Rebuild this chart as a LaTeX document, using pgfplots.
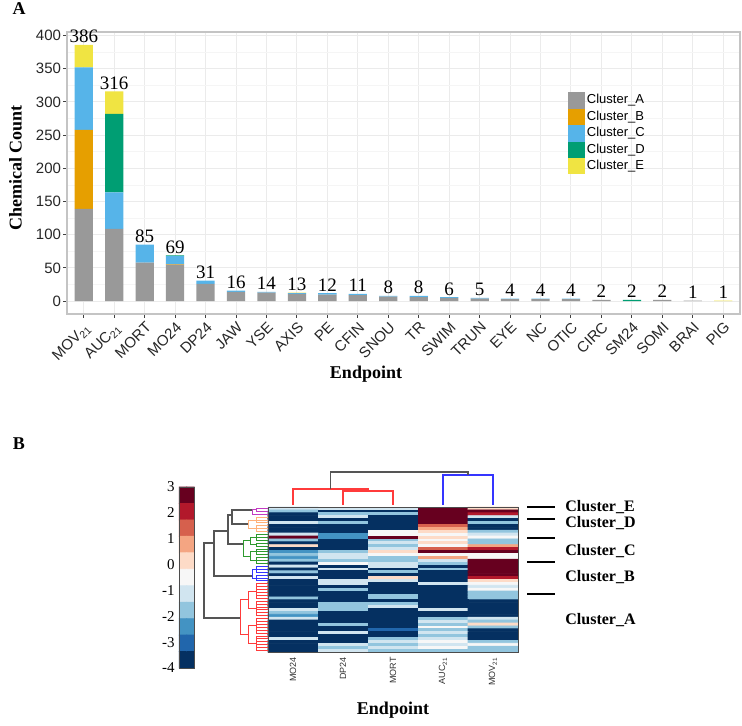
\documentclass[border=0pt]{standalone}
\usepackage{fontspec}
\setmainfont{Liberation Serif}
\newfontfamily\arial{Liberation Sans}
\usepackage{pgfplots}
\usepackage{pgfplotstable}
\pgfplotsset{compat=1.18}

\definecolor{clA}{HTML}{999999}
\definecolor{clB}{HTML}{E69F00}
\definecolor{clC}{HTML}{56B4E9}
\definecolor{clD}{HTML}{009E73}
\definecolor{clE}{HTML}{F0E442}
\definecolor{gridmaj}{HTML}{EBEBEB}
\definecolor{gridmin}{HTML}{F5F5F5}
\definecolor{framegray}{HTML}{C4C4C4}
\definecolor{dgray}{HTML}{555555}
\definecolor{dpurple}{HTML}{C23BC2}
\definecolor{dorange}{HTML}{FFB27A}
\definecolor{dgreen}{HTML}{2E9A2E}
\definecolor{dblue}{HTML}{3535FF}
\definecolor{dred}{HTML}{FF3B3B}

% panel A: chemical count per endpoint, split by cluster
\pgfplotstableread{
x  A   B   C   D   E   tot
1  139 119 94  0   34  386
2  109 0   55  118 34  316
3  58  0   27  0   0   85
4  55  1   12  1   0   69
5  26  0   5   0   0   31
6  14  0   2   0   0   16
7  13  0   1   0   0   14
8  11  0   1   0   1   13
9  10  0   2   0   0   12
10 9   0   2   0   0   11
11 7   0   1   0   0   8
12 6   0   2   0   0   8
13 5   0   1   0   0   6
14 4   0   1   0   0   5
15 3   0   1   0   0   4
16 3   0   1   0   0   4
17 3   0   1   0   0   4
18 2   0   0   0   0   2
19 0   0   0   2   0   2
20 2   0   0   0   0   2
21 1   0   0   0   0   1
22 0   0   0   0   1   1
}\counts

% panel B heatmap: column c (1 MO24, 2 DP24, 3 MORT, 4 AUC21, 5 MOV21), row r, value v
\pgfplotstableread[row sep=\\]{
c r v\\
1 1 -1.2\\ 2 1 -1.2\\ 3 1 -1.2\\ 4 1 3\\ 5 1 0.2\\
1 2 -1.9\\ 2 2 -4\\ 3 2 -4\\ 4 2 3\\ 5 2 3\\
1 3 -4\\ 2 3 -1.9\\ 3 3 -1.9\\ 4 3 3\\ 5 3 2.3\\
1 4 -4\\ 2 4 -1.2\\ 3 4 -4\\ 4 4 3\\ 5 4 -1.2\\
1 5 -4\\ 2 5 -4\\ 3 5 -4\\ 4 5 3\\ 5 5 -4\\
1 6 -1.2\\ 2 6 -1.9\\ 3 6 -4\\ 4 6 3\\ 5 6 -1.9\\
1 7 -4\\ 2 7 -4\\ 3 7 -4\\ 4 7 1.6\\ 5 7 -4\\
1 8 -4\\ 2 8 -4\\ 3 8 -4\\ 4 8 0.9\\ 5 8 -4\\
1 9 -4\\ 2 9 -4\\ 3 9 -0.5\\ 4 9 0.2\\ 5 9 -1.9\\
1 10 -1.2\\ 2 10 -2.6\\ 3 10 -0.5\\ 4 10 -0.5\\ 5 10 -1.2\\
1 11 3\\ 2 11 -2.6\\ 3 11 3\\ 4 11 0.2\\ 5 11 -0.5\\
1 12 -1.9\\ 2 12 -4\\ 3 12 -1.9\\ 4 12 -0.5\\ 5 12 -1.9\\
1 13 -4\\ 2 13 -4\\ 3 13 -1.2\\ 4 13 0.2\\ 5 13 -1.9\\
1 14 0.2\\ 2 14 -4\\ 3 14 -1.9\\ 4 14 -0.5\\ 5 14 0.9\\
1 15 -4\\ 2 15 -4\\ 3 15 -1.2\\ 4 15 1.6\\ 5 15 2.3\\
1 16 -2.6\\ 2 16 -1.9\\ 3 16 0.2\\ 4 16 3\\ 5 16 3\\
1 17 -1.9\\ 2 17 -1.2\\ 3 17 -0.5\\ 4 17 -0.5\\ 5 17 -0.5\\
1 18 -2.6\\ 2 18 -1.2\\ 3 18 -1.9\\ 4 18 0.9\\ 5 18 -0.5\\
1 19 -1.9\\ 2 19 -1.9\\ 3 19 -1.9\\ 4 19 -1.2\\ 5 19 3\\
1 20 -4\\ 2 20 -0.5\\ 3 20 -1.2\\ 4 20 -1.9\\ 5 20 3\\
1 21 -1.2\\ 2 21 -4\\ 3 21 -1.2\\ 4 21 -4\\ 5 21 3\\
1 22 -4\\ 2 22 -1.2\\ 3 22 -4\\ 4 22 -1.9\\ 5 22 3\\
1 23 -1.9\\ 2 23 -4\\ 3 23 -1.9\\ 4 23 -4\\ 5 23 3\\
1 24 -4\\ 2 24 -4\\ 3 24 -4\\ 4 24 -4\\ 5 24 3\\
1 25 -1.2\\ 2 25 -4\\ 3 25 0.2\\ 4 25 -4\\ 5 25 2.3\\
1 26 -4\\ 2 26 -1.2\\ 3 26 -1.2\\ 4 26 -4\\ 5 26 0.2\\
1 27 -4\\ 2 27 -1.2\\ 3 27 -4\\ 4 27 -1.2\\ 5 27 -0.5\\
1 28 -4\\ 2 28 -4\\ 3 28 -4\\ 4 28 -4\\ 5 28 -1.2\\
1 29 -4\\ 2 29 -1.9\\ 3 29 -4\\ 4 29 -4\\ 5 29 -0.5\\
1 30 -4\\ 2 30 -4\\ 3 30 -4\\ 4 30 -4\\ 5 30 -1.9\\
1 31 -4\\ 2 31 -4\\ 3 31 -1.9\\ 4 31 -4\\ 5 31 -1.9\\
1 32 -1.9\\ 2 32 -4\\ 3 32 -1.9\\ 4 32 -4\\ 5 32 -1.9\\
1 33 -4\\ 2 33 -4\\ 3 33 -4\\ 4 33 -4\\ 5 33 -4\\
1 34 -4\\ 2 34 -1.9\\ 3 34 -1.9\\ 4 34 -4\\ 5 34 -4\\
1 35 -4\\ 2 35 -1.9\\ 3 35 -1.2\\ 4 35 -4\\ 5 35 -4\\
1 36 -1.2\\ 2 36 -1.9\\ 3 36 -4\\ 4 36 -1.2\\ 5 36 -4\\
1 37 -1.9\\ 2 37 -4\\ 3 37 -4\\ 4 37 -4\\ 5 37 -4\\
1 38 -2.6\\ 2 38 -4\\ 3 38 -4\\ 4 38 -4\\ 5 38 -4\\
1 39 -1.2\\ 2 39 -4\\ 3 39 -4\\ 4 39 -1.9\\ 5 39 -1.2\\
1 40 -4\\ 2 40 -4\\ 3 40 -4\\ 4 40 -1.2\\ 5 40 -1.9\\
1 41 -4\\ 2 41 -1.9\\ 3 41 -4\\ 4 41 -1.9\\ 5 41 0.2\\
1 42 -4\\ 2 42 -4\\ 3 42 -4\\ 4 42 -0.5\\ 5 42 -1.9\\
1 43 -4\\ 2 43 -4\\ 3 43 -3.3\\ 4 43 -1.9\\ 5 43 -4\\
1 44 -4\\ 2 44 -1.2\\ 3 44 -4\\ 4 44 -1.2\\ 5 44 -4\\
1 45 -4\\ 2 45 -4\\ 3 45 -4\\ 4 45 -1.9\\ 5 45 -4\\
1 46 -1.2\\ 2 46 -4\\ 3 46 -1.9\\ 4 46 -1.2\\ 5 46 -4\\
1 47 -4\\ 2 47 -4\\ 3 47 -1.2\\ 4 47 -0.5\\ 5 47 -1.9\\
1 48 -4\\ 2 48 -1.2\\ 3 48 -1.9\\ 4 48 -1.2\\ 5 48 -0.5\\
1 49 -4\\ 2 49 -1.9\\ 3 49 -1.2\\ 4 49 -0.5\\ 5 49 -1.9\\
1 50 -4\\ 2 50 -1.2\\ 3 50 -1.9\\ 4 50 -1.9\\ 5 50 -1.9\\
}\heat

% colour key, top (3) to bottom (-4), two cells per step
\pgfplotstableread[row sep=\\]{
c r v\\
0 0 3\\ 1 0 3\\ 0 1 2.3\\ 1 1 2.3\\ 0 2 1.6\\ 1 2 1.6\\ 0 3 0.9\\ 1 3 0.9\\
0 4 0.2\\ 1 4 0.2\\ 0 5 -0.5\\ 1 5 -0.5\\ 0 6 -1.2\\ 1 6 -1.2\\ 0 7 -1.9\\ 1 7 -1.9\\
0 8 -2.6\\ 1 8 -2.6\\ 0 9 -3.3\\ 1 9 -3.3\\ 0 10 -4\\ 1 10 -4\\
}\cbar

\begin{document}
\begin{tikzpicture}
\useasboundingbox (0,0) rectangle (371pt,-362.5pt);

% ---------- panel A ----------
\begin{axis}[
  at={(33.5pt,-157pt)}, anchor=south west,
  width=336.5pt, height=141pt, scale only axis,
  ybar stacked, bar width=0.6,
  xmin=0.45, xmax=22.55, ymin=-19.3, ymax=405.3,
  xtick={1,...,22},
  xticklabels={MOV\textsubscript{21},AUC\textsubscript{21},MORT,MO24,DP24,JAW,YSE,AXIS,PE,CFIN,SNOU,TR,SWIM,TRUN,EYE,NC,OTIC,CIRC,SM24,SOMI,BRAI,PIG},
  ytick={0,50,...,400},
  minor ytick={25,75,...,375},
  xmajorgrids, ymajorgrids, yminorgrids,
  major grid style={gridmaj, line width=0.5pt},
  minor grid style={gridmin, line width=0.4pt},
  axis line style={framegray, line width=0.6pt},
  tick align=outside, major tick length=1.8pt, minor tick length=0pt,
  tick style={black!75, line width=0.5pt},
  xtick pos=bottom, ytick pos=left,
  /pgf/number format/assume math mode=true,
  tick label style={font=\arial\fontsize{7.5}{8}\selectfont, black!85},
  yticklabel style={inner sep=1pt},
  xticklabel style={rotate=45, anchor=north east, inner sep=1pt},
  legend cell align=left,
  legend image code/.code={\fill[#1] (0pt,-4.1pt) rectangle (8.2pt,4.1pt);},
  legend style={draw=none, fill=none, at={(0.744,0.787)}, anchor=north west,
    font=\arial\fontsize{6.5}{7}\selectfont, row sep=0pt, column sep=1.2pt,
    inner sep=0pt, nodes={inner sep=0pt}},
]
\addplot[fill=clA, draw=none] table[x=x, y=A] {\counts};
\addplot[fill=clB, draw=none] table[x=x, y=B] {\counts};
\addplot[fill=clC, draw=none] table[x=x, y=C] {\counts};
\addplot[fill=clD, draw=none] table[x=x, y=D] {\counts};
\addplot[fill=clE, draw=none] table[x=x, y=E] {\counts};
\legend{Cluster\_A,Cluster\_B,Cluster\_C,Cluster\_D,Cluster\_E}
\end{axis}

% totals above the bars
\begin{axis}[
  at={(33.5pt,-157pt)}, anchor=south west,
  width=336.5pt, height=141pt, scale only axis, hide axis, clip=false,
  xmin=0.45, xmax=22.55, ymin=-19.3, ymax=405.3,
  /pgf/number format/assume math mode=true,
]
\addplot[draw=none, mark=none, nodes near coords, point meta=explicit,
  nodes near coords style={font=\fontsize{9.5}{10}\selectfont, anchor=south, inner sep=0.8pt}]
  table[x=x, y=tot, meta=tot] {\counts};
\end{axis}

% ---------- panel B and titles, in pixel units of the figure ----------
\begin{axis}[
  at={(0pt,0pt)}, anchor=north west,
  width=371pt, height=362.5pt, scale only axis, hide axis, clip=false,
  xmin=0, xmax=742, ymin=0, ymax=725, y dir=reverse,
  colormap={rdbu}{rgb255(0cm)=(5,48,97); rgb255(1cm)=(33,102,172); rgb255(2cm)=(67,147,195);
    rgb255(3cm)=(146,197,222); rgb255(4cm)=(209,229,240); rgb255(5cm)=(247,247,247);
    rgb255(6cm)=(253,219,199); rgb255(7cm)=(244,165,130); rgb255(8cm)=(214,96,77);
    rgb255(9cm)=(178,24,43); rgb255(10cm)=(103,0,31)},
  point meta min=-4, point meta max=3,
]
% heatmap
\addplot[matrix plot*, mesh/cols=5, point meta=explicit]
  table[x expr={243+50*\thisrow{c}}, y expr={505.55+2.9*\thisrow{r}}, meta=v] {\heat};
% colour key
\addplot[matrix plot*, mesh/cols=2, point meta=explicit]
  table[x expr={183+7.5*\thisrow{c}}, y expr={495.23+16.4545*\thisrow{r}}, meta=v] {\cbar};

% column dendrogram
\addplot[dred, line width=0.6pt, unbounded coords=jump] coordinates {
  (343,505)(343,491)(393,491)(393,505) (nan,nan)
  (293,505)(293,489)(368,489)(368,491)};
\addplot[dblue, line width=0.6pt] coordinates {(443,505)(443,475)(493,475)(493,505)};
\addplot[dgray, line width=0.6pt] coordinates {(330.5,489)(330.5,472)(468,472)(468,475)};

% row dendrogram, upper levels
\addplot[dgray, line width=0.6pt, unbounded coords=jump] coordinates {
  (240,618)(204,618)(204,543)(214,543) (nan,nan)
  (252,576)(214,576)(214,531)(228,531) (nan,nan)
  (243,544)(228,544)(228,515)(232,515) (nan,nan)
  (252,510)(232,510)(232,524)(248,524)};
% row dendrogram, cluster subtrees
\addplot[dpurple, line width=0.5pt, unbounded coords=jump] coordinates {
  (256,509.9)(252,509.9)(252,514.25)(256,514.25) (nan,nan) (256,508.45)(256,511.35)};
\addplot[dpurple, only marks, mark=-, mark size=3pt, mark options={line width=0.5pt}]
  coordinates {(262,508.45)(262,511.35)(262,514.25)};
\addplot[dorange, line width=0.5pt, unbounded coords=jump] coordinates {
  (256,520.05)(248,520.05)(248,528.75)(256,528.75) (nan,nan)
  (256,517.15)(256,522.95) (nan,nan) (256,525.85)(256,531.65)};
\addplot[dorange, only marks, mark=-, mark size=3pt, mark options={line width=0.5pt}]
  coordinates {(262,517.15)(262,520.05)(262,522.95)(262,525.85)(262,528.75)(262,531.65)};
\addplot[dgreen, line width=0.5pt, unbounded coords=jump] coordinates {
  (250,540.35)(243,540.35)(243,556.3)(250,556.3) (nan,nan)
  (256,537.45)(250,537.45)(250,544.7)(256,544.7) (nan,nan)
  (256,534.55)(256,540.35) (nan,nan) (256,543.25)(256,546.15) (nan,nan)
  (256,551.95)(250,551.95)(250,560.65)(256,560.65) (nan,nan)
  (256,549.05)(256,554.85) (nan,nan) (256,557.75)(256,563.55)};
\addplot[dgreen, only marks, mark=-, mark size=3pt, mark options={line width=0.5pt}]
  coordinates {(262,534.55)(262,537.45)(262,540.35)(262,543.25)(262,546.15)(262,549.05)
  (262,551.95)(262,554.85)(262,557.75)(262,560.65)(262,563.55)};
\addplot[dblue, line width=0.5pt, unbounded coords=jump] coordinates {
  (256,569.35)(252,569.35)(252,578.05)(256,578.05) (nan,nan)
  (256,566.45)(256,572.25) (nan,nan) (256,575.15)(256,580.95)};
\addplot[dblue, only marks, mark=-, mark size=3pt, mark options={line width=0.5pt}]
  coordinates {(262,566.45)(262,569.35)(262,572.25)(262,575.15)(262,578.05)(262,580.95)};
\addplot[dred, line width=0.5pt, unbounded coords=jump] coordinates {
  (248,599.8)(240,599.8)(240,634.6)(248,634.6) (nan,nan)
  (256,591.1)(248,591.1)(248,608.5)(256,608.5) (nan,nan)
  (256,625.9)(248,625.9)(248,643.3)(256,643.3) (nan,nan)
  (256,583.85)(256,598.35) (nan,nan) (256,601.25)(256,615.75) (nan,nan)
  (256,618.65)(256,633.15) (nan,nan) (256,636.05)(256,650.55)};
\addplot[dred, only marks, mark=-, mark size=3pt, mark options={line width=0.5pt}]
  coordinates {(262,583.85)(262,586.75)(262,589.65)(262,592.55)(262,595.45)(262,598.35)
  (262,601.25)(262,604.15)(262,607.05)(262,609.95)(262,612.85)(262,615.75)
  (262,618.65)(262,621.55)(262,624.45)(262,627.35)(262,630.25)(262,633.15)
  (262,636.05)(262,638.95)(262,641.85)(262,644.75)(262,647.65)(262,650.55)};

% cluster boundary marks
\addplot[black, line width=1.2pt, unbounded coords=jump] coordinates {
  (527,507)(555,507) (nan,nan) (527,519)(555,519) (nan,nan) (527,538)(555,538) (nan,nan)
  (527,562)(555,562) (nan,nan) (527,594)(555,594)};

\draw[black!70, line width=0.5pt] (axis cs:268,507) rectangle (axis cs:518,652);
\draw[black!70, line width=0.5pt] (axis cs:179.25,487) rectangle (axis cs:194.25,668);

% colour key labels
\begin{scope}[every node/.style={anchor=east, inner sep=1pt, font=\fontsize{7.5}{8}\selectfont}]
\node at (axis cs:177,487) {3};
\node at (axis cs:177,512.9) {2};
\node at (axis cs:177,538.7) {1};
\node at (axis cs:177,564.6) {0};
\node at (axis cs:177,590.4) {-1};
\node at (axis cs:177,616.3) {-2};
\node at (axis cs:177,642.1) {-3};
\node at (axis cs:177,668) {-4};
\end{scope}

% heatmap column labels
\begin{scope}[every node/.style={rotate=90, anchor=east, inner sep=0pt, font=\arial\fontsize{4.5}{5}\selectfont, black!80}]
\node at (axis cs:293,657) {MO24};
\node at (axis cs:343,657) {DP24};
\node at (axis cs:393,657) {MORT};
\node at (axis cs:443,657) {AUC\textsubscript{21}};
\node at (axis cs:493,657) {MOV\textsubscript{21}};
\end{scope}

% cluster names
\begin{scope}[every node/.style={anchor=west, inner sep=0pt, font=\bfseries\fontsize{8}{9}\selectfont}]
\node at (axis cs:565,507) {Cluster\_E};
\node at (axis cs:565,523) {Cluster\_D};
\node at (axis cs:565,551) {Cluster\_C};
\node at (axis cs:565,577) {Cluster\_B};
\node at (axis cs:565,620) {Cluster\_A};
\end{scope}

% titles
\node[font=\bfseries\fontsize{9}{10}\selectfont] at (axis cs:19,9) {A};
\node[font=\bfseries\fontsize{9}{10}\selectfont] at (axis cs:19,444) {B};
\node[font=\bfseries\fontsize{9}{10}\selectfont, rotate=90] at (axis cs:15.5,168) {Chemical Count};
\node[font=\bfseries\fontsize{9}{10}\selectfont] at (axis cs:366,374) {Endpoint};
\node[font=\bfseries\fontsize{9}{10}\selectfont] at (axis cs:393,710) {Endpoint};
\end{axis}
\end{tikzpicture}
\end{document}
